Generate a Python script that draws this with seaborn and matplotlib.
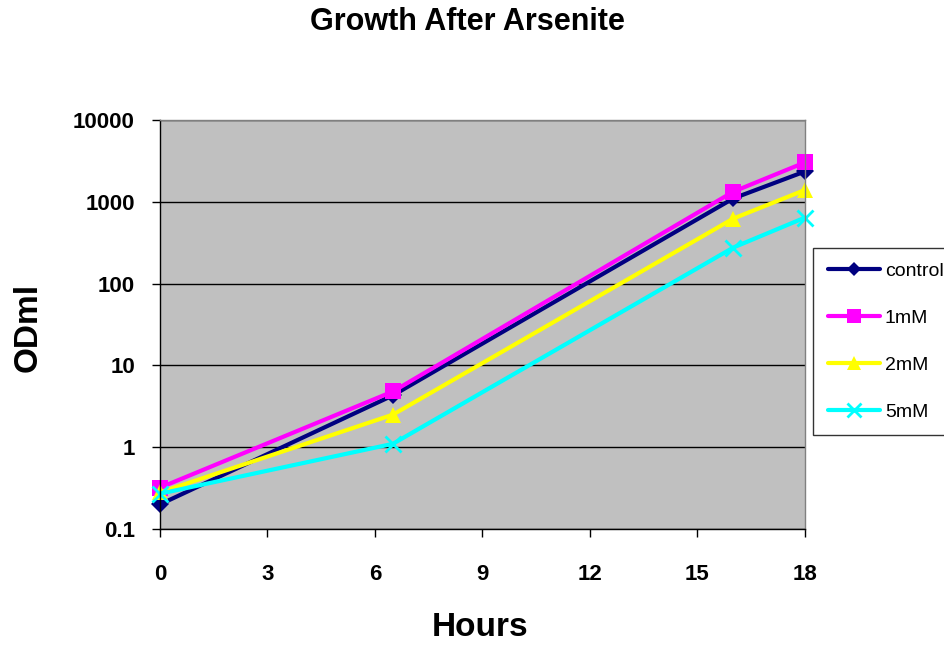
import pandas as pd
import matplotlib
matplotlib.use('Agg')
import matplotlib.pyplot as plt
from matplotlib.ticker import FixedLocator, FixedFormatter, NullLocator
import seaborn as sns

# data
hours = [0, 6.5, 16, 18]
control = [0.2, 4.3, 1100, 2350]
mm1 = [0.32, 4.8, 1330, 3030]
mm2 = [0.28, 2.5, 624, 1395]
mm5 = [0.27, 1.1, 276, 641]

series = ['control', '1mM', '2mM', '5mM']
colors = {'control': '#000080', '1mM': '#FF00FF', '2mM': '#FFFF00', '5mM': '#00FFFF'}
markers = {'control': 'D', '1mM': 's', '2mM': '^', '5mM': 'x'}
msizes = {'control': 9, '1mM': 12, '2mM': 12, '5mM': 12}

df = pd.concat([
    pd.DataFrame({'Hours': hours, 'ODml': vals, 'series': name})
    for name, vals in zip(series, [control, mm1, mm2, mm5])
])

sns.set_style('white')
plt.rcParams['font.family'] = ['Liberation Sans', 'DejaVu Sans']
plt.rcParams['text.color'] = 'black'
plt.rcParams['axes.labelcolor'] = 'black'
plt.rcParams['xtick.color'] = 'black'
plt.rcParams['ytick.color'] = 'black'

fig = plt.figure(figsize=(9.45, 6.48), dpi=100)
ax = fig.add_axes([160 / 945, 1 - 529 / 648, 645 / 945, 409 / 648])
ax.set_facecolor('#C0C0C0')

for name in series:
    sub = df[df['series'] == name]
    sns.lineplot(data=sub, x='Hours', y='ODml', ax=ax, color=colors[name],
                 marker=markers[name], markersize=msizes[name],
                 markeredgecolor=colors[name], markeredgewidth=2 if name == '5mM' else 0,
                 linewidth=3, label=name, clip_on=False)

ax.set_yscale('log')
ax.set_ylim(0.1, 10000)
ax.set_xlim(0, 18)
yt = [0.1, 1, 10, 100, 1000, 10000]
ax.yaxis.set_major_locator(FixedLocator(yt))
ax.yaxis.set_major_formatter(FixedFormatter(['0.1', '1', '10', '100', '1000', '10000']))
ax.yaxis.set_minor_locator(NullLocator())
ax.set_xticks([0, 3, 6, 9, 12, 15, 18])
ax.grid(axis='y', color='black', linewidth=1)
ax.set_axisbelow(True)

ax.tick_params(axis='both', direction='out', length=6, width=1, color='black',
               labelsize=16, bottom=True, left=True)
for lab in ax.get_xticklabels() + ax.get_yticklabels():
    lab.set_fontweight('bold')
ax.tick_params(axis='x', pad=19)
ax.tick_params(axis='y', pad=12)

for side in ['left', 'bottom']:
    ax.spines[side].set_color('black')
    ax.spines[side].set_linewidth(1)
for side in ['top', 'right']:
    ax.spines[side].set_color('#808080')
    ax.spines[side].set_linewidth(1)

ax.set_xlabel('')
ax.set_ylabel('')
fig.text(480 / 945, 1 - 628 / 648, 'Hours', fontsize=24, fontweight='bold', ha='center', va='center')
fig.text(28 / 945, 1 - 327 / 648, 'ODml', fontsize=24, fontweight='bold', ha='center', va='center', rotation=90)
fig.text(467 / 945, 1 - 22 / 648, 'Growth After Arsenite', fontsize=22, fontweight='bold', ha='center', va='center')

leg = ax.legend(loc='upper left', bbox_to_anchor=(813 / 945, 1 - 248 / 648),
                bbox_transform=fig.transFigure, frameon=True, fancybox=False,
                fontsize=14, handlelength=2.7, labelspacing=1.5, borderpad=0.75,
                handletextpad=0.25, borderaxespad=0, markerscale=0.8)
leg.get_frame().set_edgecolor('black')
leg.get_frame().set_linewidth(1)

fig.savefig('out.png', dpi=100, facecolor='white')
